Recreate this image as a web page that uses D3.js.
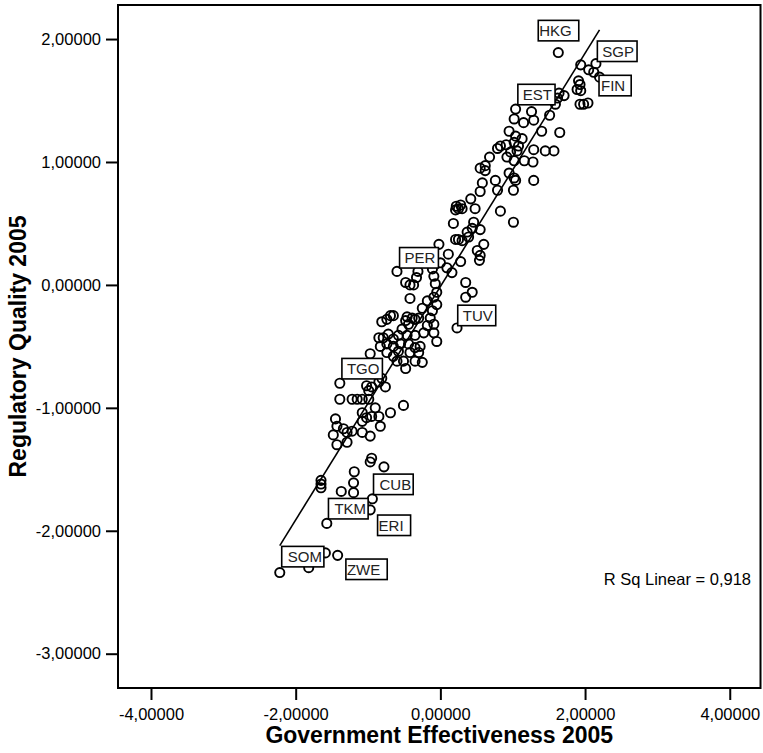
<!DOCTYPE html>
<html>
<head>
<meta charset="utf-8">
<script src="https://cdn.jsdelivr.net/npm/d3@7"></script>
<style>
	html, body { margin: 0; padding: 0; background: #fff; }
	svg { display: block; font-family: "Liberation Sans", Arial, sans-serif; }
</style>
</head>
<body>
<svg id="chart" width="763" height="753"></svg>
<script>
// Government Effectiveness 2005 (x) vs Regulatory Quality 2005 (y)
const GOV_EFF = [
	1.63, 1.94, 2.15, 2.05, 2.12, 2.20, 1.91, 1.93, 1.89, 1.94, 1.93, 1.98, 2.04, 1.64, 1.71, 1.62, 1.59,
	1.04, 1.26, 1.02, 1.15, 1.29, 1.51, 1.40, 1.65, 0.95, 1.04, 1.13, 0.83, 0.91, 1.02, 1.08, 0.79,
	1.29, 1.45, 1.57, 0.97, 1.06, 0.92, 1.02, 1.16, 1.28, 0.68, 0.62, 0.55, 0.62, 0.95, 1.02, 1.04,
	1.29, 0.76, 0.58, 0.55, 0.79, 1.01, 0.42, 0.48, 0.22, 0.28, 0.25, 0.30, 0.21, 0.83, 1.01, 0.18,
	0.46, 0.44, 0.55, 0.37, 0.39, 0.21, 0.25, 0.30, -0.02, 0.60, 0.51, 0.11, 0.55, 0.54, -0.60, -0.31,
	-0.11, 0.00, 0.09, 0.16, 0.28, -0.33, -0.09, -0.48, -0.42, -0.37, -0.07, 0.35, 0.44, 0.35, -0.05,
	-0.42, -0.09, -0.18, -0.05, -0.25, -0.11, -0.69, -0.65, -0.46, -0.39, -0.30, -0.81, -0.74, -0.48,
	-0.44, -0.35, -0.14, -0.09, -0.18, 0.23, -0.53, -0.72, -0.85, -0.79, -0.65, -0.58, -0.46, -0.35,
	-0.23, -0.09, -0.05, -0.83, -0.74, -0.65, -0.55, -0.44, -0.35, -0.28, -0.97, -0.74, -0.58, -0.42,
	-0.30, -0.51, -0.48, -0.65, -0.60, -0.35, -0.25, -1.39, -1.02, -0.95, -0.85, -0.76, -0.81, -0.99,
	-1.39, -1.22, -1.15, -1.08, -0.99, -0.90, -0.51, -0.69, -1.08, -1.02, -0.95, -0.85, -1.08, -0.83,
	-1.45, -1.43, -1.34, -1.29, -1.22, -1.08, -1.48, -1.43, -1.29, -0.97, -0.95, -0.97, -0.78, -1.19,
	-1.20, -1.37, -1.20, -1.65, -1.65, -1.65, -0.94, -0.97, -1.57, -1.59, -1.42, -2.22, -1.82
];
const REG_QUAL = [
	1.89, 1.79, 1.80, 1.75, 1.73, 1.69, 1.66, 1.63, 1.59, 1.58, 1.47, 1.47, 1.48, 1.56, 1.54, 1.52, 1.47,
	1.43, 1.41, 1.35, 1.32, 1.34, 1.38, 1.25, 1.24, 1.25, 1.21, 1.19, 1.13, 1.14, 1.16, 1.13, 1.11,
	1.10, 1.09, 1.09, 1.08, 1.09, 1.04, 1.01, 1.01, 1.00, 1.04, 0.97, 0.95, 0.93, 0.91, 0.87, 0.85,
	0.85, 0.85, 0.83, 0.76, 0.77, 0.77, 0.70, 0.62, 0.64, 0.65, 0.62, 0.62, 0.61, 0.60, 0.51, 0.50,
	0.51, 0.46, 0.45, 0.43, 0.39, 0.37, 0.37, 0.36, 0.33, 0.33, 0.28, 0.25, 0.24, 0.20, 0.11, 0.11,
	0.13, 0.18, 0.14, 0.10, 0.19, 0.06, 0.07, 0.02, 0.00, 0.00, 0.01, 0.02, -0.06, -0.10, -0.06,
	-0.11, -0.10, -0.13, -0.16, -0.19, -0.21, -0.25, -0.25, -0.26, -0.27, -0.27, -0.30, -0.28, -0.29,
	-0.32, -0.28, -0.27, -0.32, -0.33, -0.35, -0.36, -0.40, -0.43, -0.43, -0.44, -0.41, -0.41, -0.41,
	-0.39, -0.39, -0.46, -0.50, -0.48, -0.50, -0.48, -0.48, -0.51, -0.50, -0.56, -0.55, -0.54, -0.55,
	-0.55, -0.62, -0.68, -0.58, -0.62, -0.62, -0.63, -0.80, -0.82, -0.83, -0.79, -0.83, -0.76, -0.86,
	-0.93, -0.93, -0.93, -0.93, -0.93, -1.00, -0.98, -1.04, -1.04, -1.08, -1.07, -1.07, -1.11, -1.15,
	-1.09, -1.15, -1.17, -1.20, -1.19, -1.20, -1.22, -1.30, -1.28, -1.23, -1.41, -1.44, -1.48, -1.52,
	-1.61, -1.68, -1.69, -1.59, -1.62, -1.65, -1.74, -1.83, -1.94, -2.18, -2.20, -2.34, -2.30
];

// country labels and where their box sits (data units, box top-left)
const LABEL_CODES = ["HKG", "SGP", "FIN", "EST", "PER", "TUV", "TGO", "CUB", "TKM", "ERI", "SOM", "ZWE"];
const LABEL_X = [1.353, 2.170, 2.193, 1.071, -0.564, 0.240, -1.361, -0.924, -1.547, -0.868, -2.193, -1.306];
const LABEL_Y = [2.152, 1.984, 1.705, 1.632, 0.304, -0.165, -0.598, -1.539, -1.737, -1.872, -2.127, -2.230];

const X_TICKS = [-4, -2, 0, 2, 4];
const Y_TICKS = [-3, -2, -1, 0, 1, 2];
const R_SQ_TEXT = "R Sq Linear = 0,918";

// layout only
const FRAME = { left: 118, top: 5, right: 760.5, bottom: 688 };
const LABEL_INSET = [1, 5, 2, 5, 5, 5, 5, 6, 6, 1, 6, 1];

const locale = d3.formatLocale({ decimal: ",", thousands: ".", grouping: [3], currency: ["", ""], minus: "-" });
const fmt = locale.format(".5f");

const build = () => {
	let svg = d3.select("#chart");

	let x = d3.scaleLinear()
		.domain([-4.456, 4.425])
		.range([FRAME.left, FRAME.right]);

	let y = d3.scaleLinear()
		.domain([-3.279, 2.277])
		.range([FRAME.bottom, FRAME.top]);

	let data = GOV_EFF.map((gx, i) => ({ x: gx, y: REG_QUAL[i] }));

	// axes
	let xAxis = svg.append("g")
		.attr("transform", "translate(0," + FRAME.bottom + ")")
		.call(d3.axisBottom(x).tickValues(X_TICKS).tickFormat(fmt).tickSize(12).tickSizeOuter(0).tickPadding(8));

	let yAxis = svg.append("g")
		.attr("transform", "translate(" + FRAME.left + ",0)")
		.call(d3.axisLeft(y).tickValues(Y_TICKS).tickFormat(fmt).tickSize(12).tickSizeOuter(0).tickPadding(5));

	[xAxis, yAxis].forEach((a) => {
		a.select(".domain").remove();
		a.selectAll(".tick line").attr("stroke", "#000").attr("stroke-width", 2);
		a.selectAll(".tick text")
			.attr("fill", "#000")
			.attr("font-size", 16.5)
			.attr("font-family", "Liberation Sans, Arial, sans-serif");
	});

	// frame
	svg.append("rect")
		.attr("x", FRAME.left)
		.attr("y", FRAME.top)
		.attr("width", FRAME.right - FRAME.left)
		.attr("height", FRAME.bottom - FRAME.top)
		.attr("fill", "none")
		.attr("stroke", "#000")
		.attr("stroke-width", 2);

	// points
	svg.append("g")
		.selectAll("circle")
		.data(data)
		.enter().append("circle")
		.attr("cx", (d) => x(d.x))
		.attr("cy", (d) => y(d.y))
		.attr("r", 4.6)
		.attr("fill", "none")
		.attr("stroke", "#000")
		.attr("stroke-width", 1.9);

	// least squares fit, drawn over the x range of the data
	let mx = d3.mean(data, (d) => d.x);
	let my = d3.mean(data, (d) => d.y);
	let sxy = d3.sum(data, (d) => (d.x - mx) * (d.y - my));
	let sxx = d3.sum(data, (d) => (d.x - mx) * (d.x - mx));
	let slope = sxy / sxx;
	let icpt = my - slope * mx;
	let ext = d3.extent(data, (d) => d.x);

	svg.append("path")
		.datum(ext.map((v) => [v, icpt + slope * v]))
		.attr("d", d3.line().x((d) => x(d[0])).y((d) => y(d[1])))
		.attr("stroke", "#000")
		.attr("stroke-width", 1.6)
		.attr("fill", "none");

	// labels
	let lab = svg.append("g")
		.selectAll("g")
		.data(LABEL_CODES)
		.enter().append("g")
		.attr("transform", (d, i) => "translate(" + x(LABEL_X[i]) + "," + y(LABEL_Y[i]) + ")");

	let rects = lab.append("rect")
		.attr("height", 20.5)
		.attr("fill", "#fff")
		.attr("stroke", "#000")
		.attr("stroke-width", 1.6);

	let texts = lab.append("text")
		.attr("x", (d, i) => LABEL_INSET[i])
		.attr("y", 15.5)
		.attr("font-size", 15)
		.attr("fill", "#222")
		.text((d) => d);

	rects.attr("width", (d, i) => texts.nodes()[i].getComputedTextLength() + 8);

	// r square note
	svg.append("text")
		.attr("x", 751)
		.attr("y", 585)
		.attr("text-anchor", "end")
		.attr("font-size", 16.5)
		.text(R_SQ_TEXT);

	// axis titles
	svg.append("text")
		.attr("x", (FRAME.left + FRAME.right) / 2)
		.attr("y", 743)
		.attr("text-anchor", "middle")
		.attr("font-weight", "bold")
		.attr("font-size", 23)
		.text("Government Effectiveness 2005");

	svg.append("text")
		.attr("transform", "translate(26," + (FRAME.top + FRAME.bottom) / 2 + ") rotate(-90)")
		.attr("text-anchor", "middle")
		.attr("font-weight", "bold")
		.attr("font-size", 23)
		.text("Regulatory Quality 2005");
};

build();
</script>
</body>
</html>
